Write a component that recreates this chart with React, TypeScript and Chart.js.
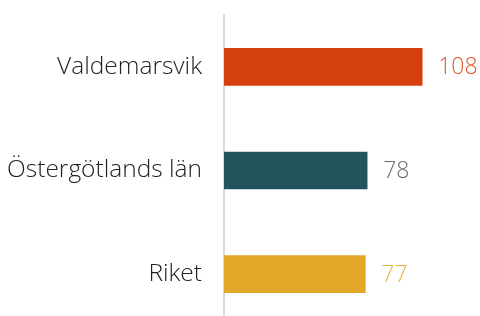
import React, { useEffect, useRef } from "react";
import { Chart, registerables } from "chart.js";

Chart.register(...registerables);

const categories = ["Valdemarsvik", "Östergötlands län", "Riket"];
const values = [108, 78, 77];
const barColors = ["#d63f0f", "#20555e", "#e3a827"];
const valueLabelColors = ["#e4572e", "#6b6b6b", "#eab243"];

const FONT = "'Open Sans', sans-serif";

const valueLabelPlugin = {
  id: "valueLabels",
  afterDatasetsDraw(chart: any) {
    const ctx = chart.ctx;
    const meta = chart.getDatasetMeta(0);
    ctx.save();
    ctx.font = `300 23px ${FONT}`;
    ctx.textBaseline = "middle";
    ctx.textAlign = "left";
    meta.data.forEach((el: any, i: number) => {
      ctx.fillStyle = valueLabelColors[i];
      ctx.fillText(String(values[i]), el.x + 16, el.y + 1);
    });
    ctx.restore();
  },
};

export default function App() {
  const ref = useRef<HTMLCanvasElement | null>(null);
  useEffect(() => {
    if (!ref.current) return;
    const chart = new Chart(ref.current, {
      type: "bar",
      data: {
        labels: categories,
        datasets: [
          {
            data: values,
            backgroundColor: barColors,
            barThickness: 37,
          },
        ],
      },
      options: {
        indexAxis: "y",
        animation: false,
        responsive: false,
        devicePixelRatio: 1,
        layout: { padding: { top: 15, right: 0, bottom: 0, left: 0 } },
        plugins: { legend: { display: false }, tooltip: { enabled: false } },
        scales: {
          x: {
            min: 0,
            max: 139.5,
            display: false,
          },
          y: {
            grid: { display: false, drawTicks: false },
            border: { display: true, color: "#d9d9d9", width: 2 },
            ticks: {
              color: "#222222",
              font: { family: FONT, size: 24.5, weight: "300" as any },
              padding: 22,
            },
            afterFit: (scale: any) => {
              scale.width = 224;
              scale.paddingTop = 0;
              scale.paddingBottom = 0;
            },
          },
        },
      },
      plugins: [valueLabelPlugin],
    });
    return () => chart.destroy();
  }, []);
  return (
    <div style={{ position: "fixed", left: 0, top: 0, width: 480, height: 326, background: "#fff" }}>
      <canvas ref={ref} width={480} height={326} style={{ display: "block" }} />
    </div>
  );
}
